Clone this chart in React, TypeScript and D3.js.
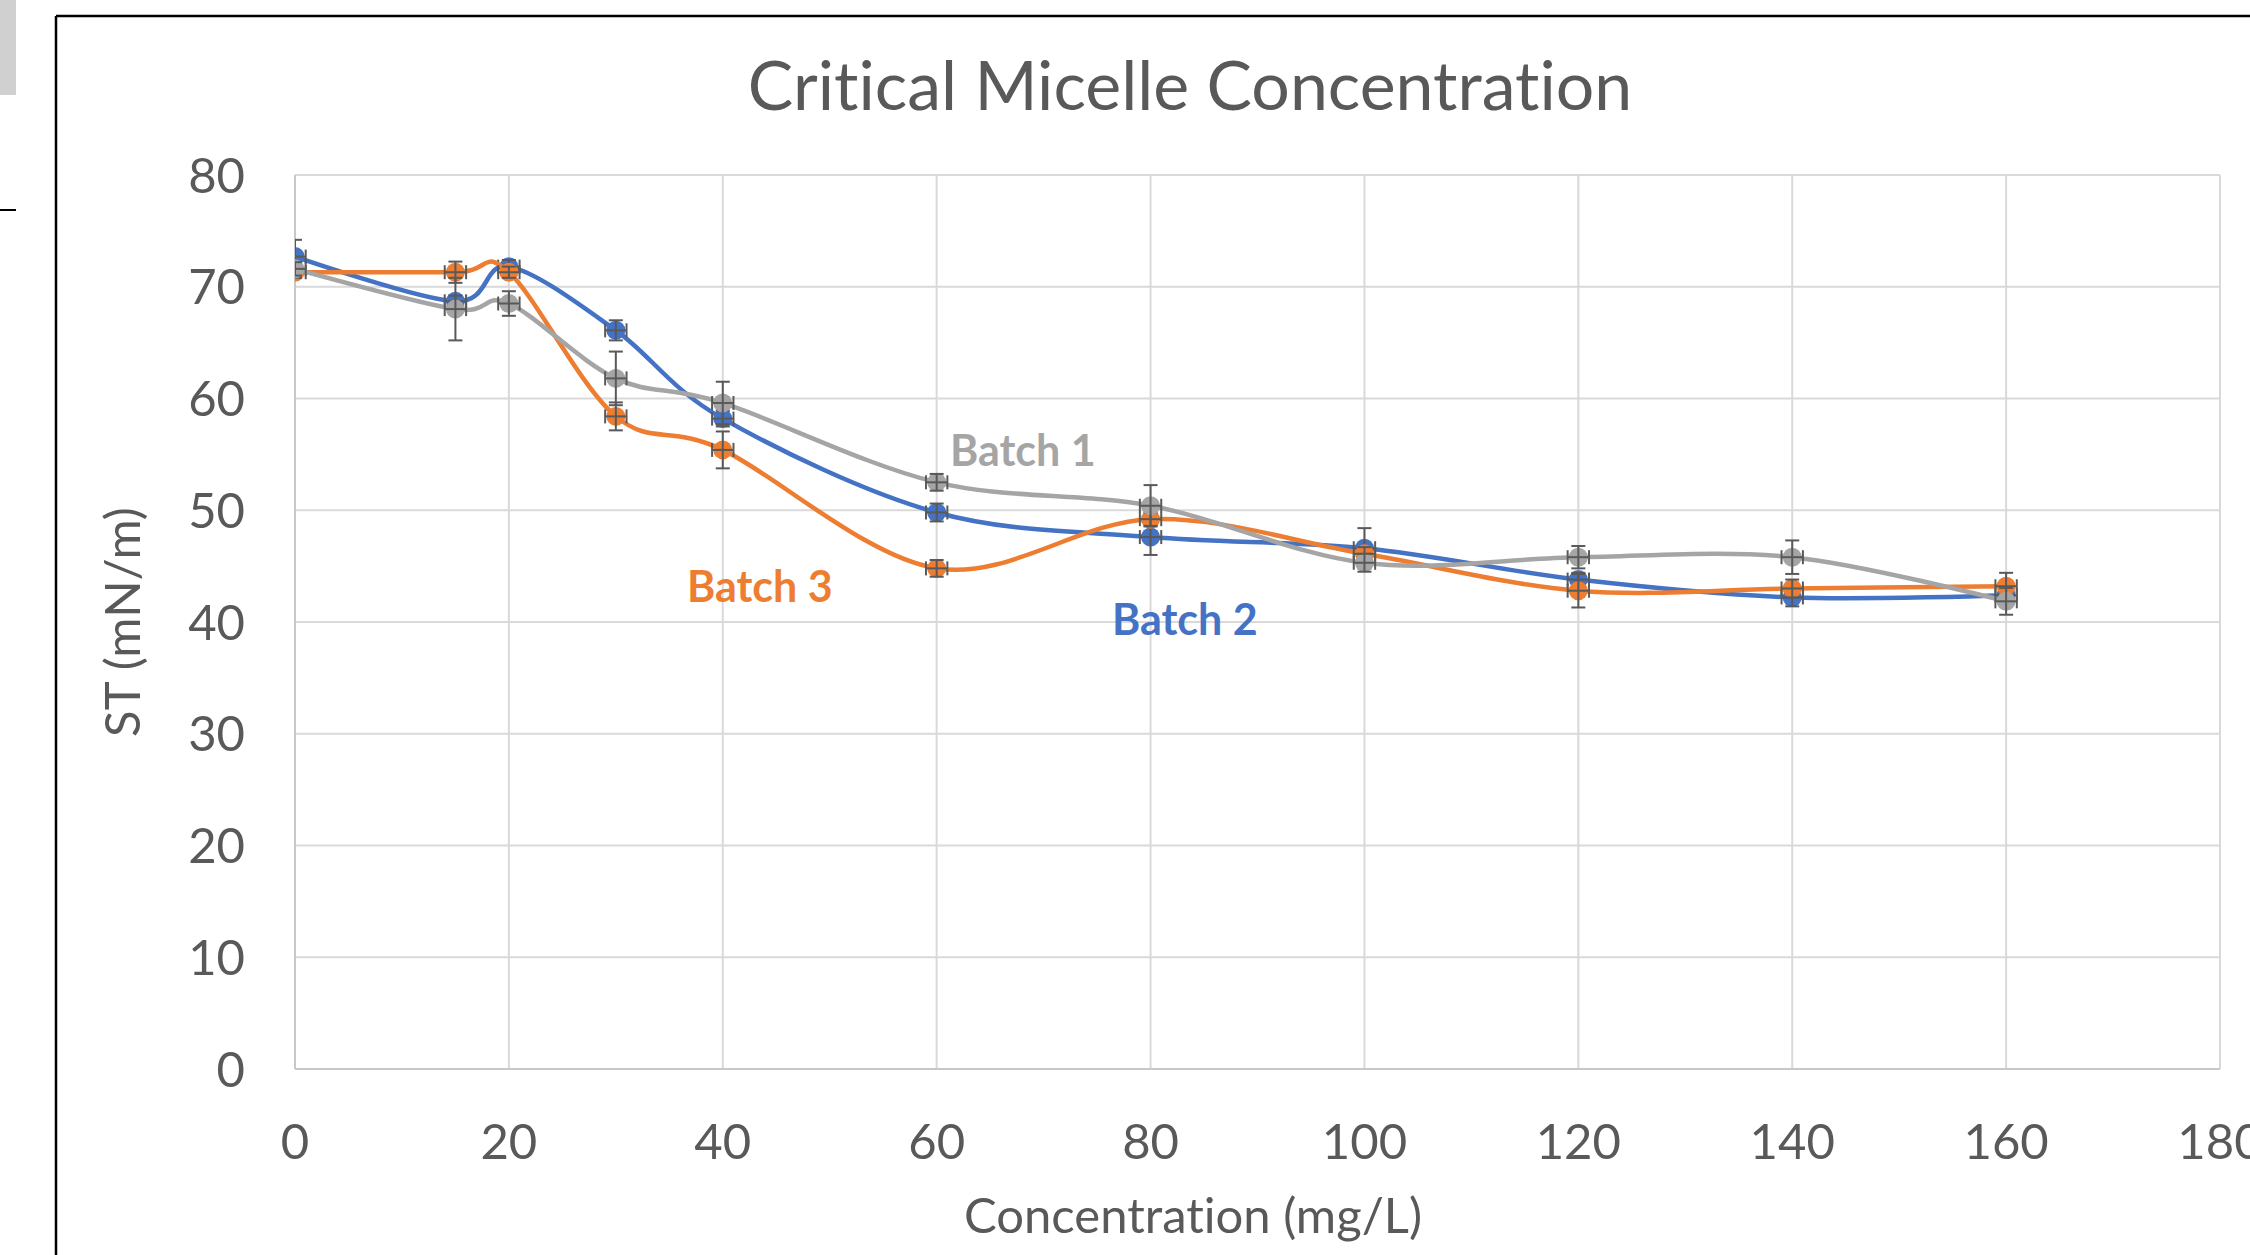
import React from "react";
import * as d3 from "d3";

// concentration (mg/L)
const conc = [0, 15, 20, 30, 40, 60, 80, 100, 120, 140, 160];

// surface tension (mN/m) per batch, with error bars
const batch2 = [72.7, 68.7, 71.8, 66.1, 58.2, 49.8, 47.6, 46.6, 43.8, 42.2, 42.4];
const batch2Err = [1.5, 0.5, 0.6, 0.9, 0.7, 0.8, 1.6, 1.8, 0.6, 0.8, 0.5];
const batch3 = [71.3, 71.3, 71.3, 58.4, 55.4, 44.8, 49.2, 46.1, 42.8, 43.0, 43.2];
const batch3Err = [0.5, 0.95, 0.5, 1.25, 1.65, 0.75, 0.6, 0.6, 1.5, 0.8, 1.2];
const batch1 = [71.6, 68.0, 68.5, 61.8, 59.6, 52.5, 50.4, 45.3, 45.8, 45.8, 41.85];
const batch1Err = [0.6, 2.8, 1.1, 2.4, 1.9, 0.75, 1.85, 0.8, 1.0, 1.5, 1.2];
const concErr = 1;

const xTicks = [0, 20, 40, 60, 80, 100, 120, 140, 160, 180];
const yTicks = [0, 10, 20, 30, 40, 50, 60, 70, 80];

const seriesList = [
  { name: "Batch 2", values: batch2, err: batch2Err, color: "#4472C4" },
  { name: "Batch 3", values: batch3, err: batch3Err, color: "#ED7D31" },
  { name: "Batch 1", values: batch1, err: batch1Err, color: "#A5A5A5" },
];

const W = 2250;
const H = 1255;
const left = 295;
const right = 2220;
const top = 175;
const bottom = 1069;
const textColor = "#595959";
const font = "Lato, 'Open Sans', sans-serif";

export default function App() {
  const x = d3.scaleLinear().domain([0, 180]).range([left, right]);
  const y = d3.scaleLinear().domain([0, 80]).range([bottom, top]);

  const line = d3
    .line<number>()
    .x((d, i) => x(conc[i]))
    .y((d) => y(d))
    .curve(d3.curveCardinal.tension(0));

  const cap = 7;

  return (
    <svg
      width={W}
      height={H}
      style={{ position: "absolute", left: 0, top: 0, background: "#fff", fontVariantLigatures: "none" }}
      fontFamily={font}
    >
      <defs>
        <clipPath id="plot">
          <rect x={left} y={top - 20} width={right - left} height={bottom - top + 20} />
        </clipPath>
      </defs>

      {/* page bits around the chart */}
      <rect x={0} y={0} width={16} height={95} fill="#d0d0d0" />
      <line x1={0} x2={16} y1={210} y2={210} stroke="#000" strokeWidth={2} />
      <line x1={56} x2={56} y1={16} y2={H} stroke="#000" strokeWidth={2.5} />
      <line x1={56} x2={W} y1={16} y2={16} stroke="#000" strokeWidth={2.5} />

      <text x={1190} y={110} textAnchor="middle" fontSize={68} fill={textColor}>
        Critical Micelle Concentration
      </text>

      {/* gridlines */}
      {yTicks.map((t) => (
        <line key={"gy" + t} x1={left} x2={right} y1={y(t)} y2={y(t)} stroke="#d9d9d9" strokeWidth={2} />
      ))}
      {xTicks.map((t) => (
        <line key={"gx" + t} x1={x(t)} x2={x(t)} y1={top} y2={bottom} stroke="#d9d9d9" strokeWidth={2} />
      ))}
      <line x1={left} x2={left} y1={top} y2={bottom} stroke="#c8c8c8" strokeWidth={2} />
      <line x1={left} x2={right} y1={bottom} y2={bottom} stroke="#c8c8c8" strokeWidth={2} />

      {/* tick labels */}
      {yTicks.map((t) => (
        <text key={"ly" + t} x={245} y={y(t)} dy="0.36em" textAnchor="end" fontSize={49} fill={textColor}>
          {t}
        </text>
      ))}
      {xTicks.map((t) => (
        <text key={"lx" + t} x={x(t)} y={1159} textAnchor="middle" fontSize={49} fill={textColor}>
          {t}
        </text>
      ))}

      <text x={1193} y={1233} textAnchor="middle" fontSize={49} fill={textColor}>
        Concentration (mg/L)
      </text>
      <text
        transform={`translate(140, ${(top + bottom) / 2}) rotate(-90)`}
        textAnchor="middle"
        fontSize={49}
        fill={textColor}
      >
        ST (mN/m)
      </text>

      {/* series */}
      <g clipPath="url(#plot)">
        {seriesList.map((s) => (
          <g key={s.name}>
            <path d={line(s.values) || ""} fill="none" stroke={s.color} strokeWidth={4.5} />
            {s.values.map((v, i) => (
              <circle key={i} cx={x(conc[i])} cy={y(v)} r={9.5} fill={s.color} />
            ))}
            {s.values.map((v, i) => {
              const cx = x(conc[i]);
              const y0 = y(v - s.err[i]);
              const y1 = y(v + s.err[i]);
              const x0 = x(conc[i] - concErr);
              const x1 = x(conc[i] + concErr);
              const cy = y(v);
              return (
                <g key={"e" + i} stroke="#595959" strokeWidth={2} fill="none">
                  <line x1={cx} x2={cx} y1={y0} y2={y1} />
                  <line x1={cx - cap} x2={cx + cap} y1={y0} y2={y0} />
                  <line x1={cx - cap} x2={cx + cap} y1={y1} y2={y1} />
                  <line x1={x0} x2={x1} y1={cy} y2={cy} />
                  <line x1={x0} x2={x0} y1={cy - cap} y2={cy + cap} />
                  <line x1={x1} x2={x1} y1={cy - cap} y2={cy + cap} />
                </g>
              );
            })}
          </g>
        ))}
      </g>

      {/* series labels */}
      <text x={950} y={466} fontSize={43} fontWeight="bold" fill="#A5A5A5">Batch 1</text>
      <text x={687} y={602} fontSize={43} fontWeight="bold" fill="#ED7D31">Batch 3</text>
      <text x={1112} y={635} fontSize={43} fontWeight="bold" fill="#4472C4">Batch 2</text>
    </svg>
  );
}
